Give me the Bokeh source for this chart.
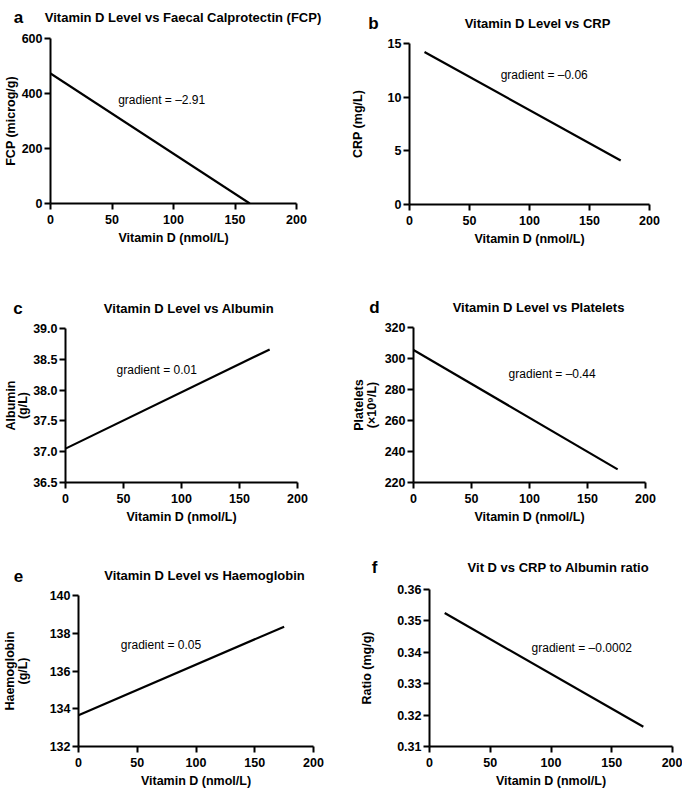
from bokeh.plotting import figure
from bokeh.models import Range1d, Label, FixedTicker, NumeralTickFormatter
from bokeh.layouts import column, row
from bokeh.embed import file_html
from bokeh.resources import INLINE
from bokeh.core.properties import value

FONT = "Liberation Sans"

# ---- data ----
letters = ["a", "b", "c", "d", "e", "f"]
titles = ["Vitamin D Level vs Faecal Calprotectin (FCP)", "Vitamin D Level vs CRP",
          "Vitamin D Level vs Albumin", "Vitamin D Level vs Platelets",
          "Vitamin D Level vs Haemoglobin", "Vit D vs CRP to Albumin ratio"]
x_label = "Vitamin D (nmol/L)"
y_labels = ["FCP (microg/g)", "CRP (mg/L)", "Albumin\n(g/L)", "Platelets\n(\u00d710\u2079/L)",
            "Haemoglobin\n(g/L)", "Ratio (mg/g)"]
gradients = ["gradient = \u20132.91", "gradient = \u20130.06", "gradient = 0.01",
             "gradient = \u20130.44", "gradient = 0.05", "gradient = \u20130.0002"]

vitd_a = [0, 162]
fcp = [473, 0]
vitd_b = [12.5, 176]
crp = [14.2, 4.1]
vitd_c = [0, 176]
albumin = [37.05, 38.66]
vitd_d = [0, 176]
platelets = [305.5, 228.5]
vitd_e = [0, 175]
haemoglobin = [133.65, 138.35]
vitd_f = [12.5, 176]
ratio = [0.3525, 0.3163]

x_ticks = [0, 50, 100, 150, 200]
y_ticks = [[0, 200, 400, 600], [0, 5, 10, 15], [36.5, 37.0, 37.5, 38.0, 38.5, 39.0],
           [220, 240, 260, 280, 300, 320], [132, 134, 136, 138, 140],
           [0.31, 0.32, 0.33, 0.34, 0.35, 0.36]]
y_ranges = [(0, 600), (0, 15), (36.5, 39.0), (220, 320), (132, 140), (0.31, 0.36)]
y_formats = ["0", "0", "0.0", "0", "0", "0.00"]
xs = [vitd_a, vitd_b, vitd_c, vitd_d, vitd_e, vitd_f]
ys = [fcp, crp, albumin, platelets, haemoglobin, ratio]
grad_pos = [(55, 375), (76, 12.1), (44, 38.33), (82, 290), (36, 137.4), (84, 0.3414)]

# ---- layout (pixels) ----
PANEL_W = 341
# (height, left, right, top, bottom) of each panel's plot figure
geom = [(231, 49, 45, 9, 57), (226, 68, 33, 9, 56),
        (209, 63, 44, 9, 46), (210, 72, 37, 9, 46),
        (204, 78, 28, 9, 40), (210, 88, 10, 9, 42)]
y_label_standoff = [1, 20, 0, 3, 17, 20]
header_h = [29, 34, 59, 58, 58, 52]
# header text anchors, local to each header: (x, baseline height above header bottom)
letter_pos = [(18, 12.3), (32, 11.3), (17.5, 11), (33, 11.3), (18, 11), (33, 13.3)]
title_pos = [(182.5, 12.3), (196, 11.3), (188.5, 11), (197, 11.3), (204, 11), (217, 13.3)]


def make_header(i):
    h = header_h[i]
    p = figure(width=PANEL_W, height=h, x_range=Range1d(0, PANEL_W), y_range=Range1d(0, h),
               output_backend="svg", toolbar_location=None,
               x_axis_location=None, y_axis_location=None,
               min_border_left=0, min_border_right=0, min_border_top=0, min_border_bottom=0)
    p.outline_line_color = None
    p.grid.visible = False
    p.text(x=[letter_pos[i][0]], y=[letter_pos[i][1]], text=[letters[i]],
           text_font=value(FONT), text_font_size="17px", text_font_style="bold",
           text_color="black", text_align="center", text_baseline="alphabetic")
    p.text(x=[title_pos[i][0]], y=[title_pos[i][1]], text=[titles[i]],
           text_font=value(FONT), text_font_size="13px", text_font_style="bold",
           text_color="black", text_align="center", text_baseline="alphabetic")
    return p


def make(i):
    h, bl, br, bt, bb = geom[i]
    p = figure(width=PANEL_W, height=h, x_range=Range1d(0, 200),
               y_range=Range1d(*y_ranges[i]), output_backend="svg", toolbar_location=None,
               min_border_left=bl, min_border_right=br,
               min_border_top=bt, min_border_bottom=bb)
    p.outline_line_color = None
    p.grid.visible = False
    p.line(xs[i], ys[i], line_color="black", line_width=2.2)
    for ax in (p.xaxis[0], p.yaxis[0]):
        ax.axis_line_width = 2
        ax.axis_line_color = "black"
        ax.major_tick_line_width = 2
        ax.major_tick_line_color = "black"
        ax.major_tick_in = 0
        ax.major_tick_out = 6
        ax.minor_tick_line_color = None
        ax.major_label_text_font = FONT
        ax.major_label_text_font_style = "bold"
        ax.major_label_text_font_size = "12.5px"
        ax.major_label_text_color = "black"
        ax.axis_label_text_font = FONT
        ax.axis_label_text_font_style = "bold"
        ax.axis_label_text_font_size = "12.5px"
        ax.axis_label_text_color = "black"
        ax.axis_label_text_line_height = 0.9
    p.xaxis[0].major_label_standoff = 5
    p.xaxis[0].axis_label_standoff = 4
    p.yaxis[0].major_label_standoff = 2
    p.yaxis[0].axis_label_standoff = y_label_standoff[i]
    p.xaxis[0].ticker = FixedTicker(ticks=x_ticks)
    p.yaxis[0].ticker = FixedTicker(ticks=y_ticks[i])
    p.yaxis[0].formatter = NumeralTickFormatter(format=y_formats[i])
    p.xaxis[0].axis_label = x_label
    p.yaxis[0].axis_label = y_labels[i]
    gx, gy = grad_pos[i]
    p.add_layout(Label(x=gx, y=gy, text=gradients[i], text_font=FONT,
                       text_font_size="12px", text_color="black",
                       text_align="left", text_baseline="middle"))
    return p


# wrapping each header in its own row keeps its frame from being aligned with the plot below
cells = [column(row(make_header(i), spacing=0), make(i), spacing=0) for i in range(6)]
layout = column(
    row(cells[0], cells[1], spacing=0),
    row(cells[2], cells[3], spacing=0),
    row(cells[4], cells[5], spacing=0),
    spacing=0)

open("out.html", "w").write(file_html(layout, INLINE))
